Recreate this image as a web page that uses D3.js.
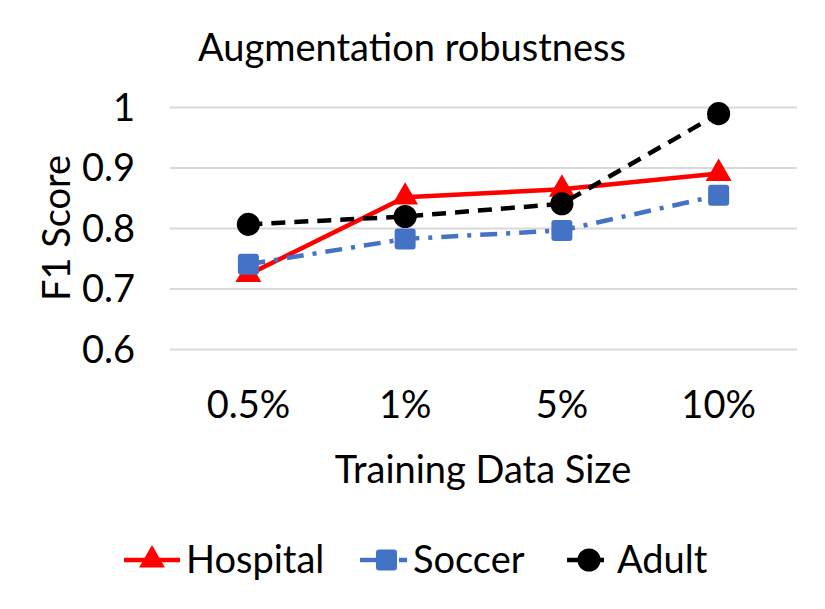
<!DOCTYPE html>
<html>
<head>
<meta charset="utf-8">
<script src="https://cdn.jsdelivr.net/npm/d3@7"></script>
<style>
  body { margin: 0; background: #fff; }
  text { font-family: Lato, "Open Sans", sans-serif; fill: #000; }
</style>
</head>
<body>
<svg id="chart" width="825" height="609"></svg>
<script>
// data
const categories = ["0.5%", "1%", "5%", "10%"];
const hospital = [0.723, 0.851, 0.864, 0.890];
const soccer = [0.740, 0.782, 0.796, 0.854];
const adult = [0.806, 0.819, 0.840, 0.989];
const yTicks = [0.6, 0.7, 0.8, 0.9, 1];

const series = [
  {name: "Hospital", values: hospital, color: "#ff0000", dash: null, marker: "triangle"},
  {name: "Soccer", values: soccer, color: "#4472c4", dash: "17,9,4,9", marker: "square"},
  {name: "Adult", values: adult, color: "#000000", dash: "14,9", marker: "circle"}
];

let margin = {top: 107, right: 28, bottom: 260, left: 170};
let width = 825 - margin.left - margin.right;
let height = 609 - margin.top - margin.bottom;

let svg = d3.select("#chart");
let g = svg.append("g")
    .attr("transform", "translate(" + margin.left + "," + margin.top + ")");

let x = d3.scaleBand().domain(categories).range([0, width]);
let y = d3.scaleLinear().domain([0.6, 1]).range([height, 0]);

// gridlines + y labels
let yAxis = d3.axisLeft(y).tickValues(yTicks).tickSize(-width).tickPadding(35)
    .tickFormat(d => d3.format("")(d));
let yAxisG = g.append("g").attr("class", "y-axis").call(yAxis);
yAxisG.select(".domain").remove();
yAxisG.selectAll(".tick line").attr("stroke", "#d9d9d9").attr("stroke-width", 2);
yAxisG.selectAll(".tick text").style("font-size", "38px").attr("dy", "0.35em");

// x labels
let xAxis = d3.axisBottom(x).tickSize(0).tickPadding(42);
let xAxisG = g.append("g").attr("class", "x-axis")
    .attr("transform", "translate(0," + height + ")").call(xAxis);
xAxisG.select(".domain").remove();
xAxisG.selectAll(".tick text").style("font-size", "38px");

function markerPath(type, size) {
  let t = type === "triangle" ? d3.symbolTriangle : d3.symbolCircle;
  return d3.symbol().type(t).size(size)();
}

function drawMarker(sel, type, color) {
  if (type === "square") {
    sel.append("rect").attr("x", -10.5).attr("y", -10.5).attr("width", 21).attr("height", 21)
      .attr("rx", 3).attr("fill", color);
  } else {
    sel.append("path").attr("d", markerPath(type, type === "triangle" ? 290 : 420)).attr("fill", color);
  }
}

let line = d3.line()
    .x((d, i) => x(categories[i]) + x.bandwidth() / 2)
    .y(d => y(d));

// series drawn in order: hospital, soccer, adult (later ones on top)
series.forEach(s => {
  g.append("path")
    .datum(s.values)
    .attr("fill", "none")
    .attr("stroke", s.color)
    .attr("stroke-width", 4.5)
    .attr("stroke-dasharray", s.dash)
    .attr("d", line);
  g.selectAll(null)
    .data(s.values)
    .enter().append("g")
    .attr("transform", (d, i) => "translate(" + (x(categories[i]) + x.bandwidth() / 2) + "," + y(d) + ")")
    .each(function() { drawMarker(d3.select(this), s.marker, s.color); });
});

// title
svg.append("text")
    .attr("x", 412).attr("y", 61)
    .attr("text-anchor", "middle")
    .style("font-size", "38px")
    .text("Augmentation robustness");

// axis titles
svg.append("text")
    .attr("x", 483).attr("y", 483)
    .attr("text-anchor", "middle")
    .style("font-size", "38px")
    .text("Training Data Size");

svg.append("text")
    .attr("transform", "translate(70,228) rotate(-90)")
    .attr("text-anchor", "middle")
    .style("font-size", "38px")
    .text("F1 Score");

// legend
let legendX = [124, 360, 567];
let legendLen = [56, 47, 44];
series.forEach((s, i) => {
  let lg = svg.append("g").attr("transform", "translate(" + legendX[i] + ",560)");
  lg.append("line")
    .attr("x1", 0).attr("x2", legendLen[i])
    .attr("stroke", s.color).attr("stroke-width", 4.5)
    .attr("stroke-dasharray", s.dash);
  let mg = lg.append("g").attr("transform", "translate(" + (legendLen[i] / 2 + (i === 1 ? 3 : 0)) + ",0)");
  drawMarker(mg, s.marker, s.color);
  lg.append("text")
    .attr("x", legendLen[i] + 6).attr("y", 0).attr("dy", "0.35em")
    .style("font-size", "38px")
    .text(s.name);
});
</script>
</body>
</html>
